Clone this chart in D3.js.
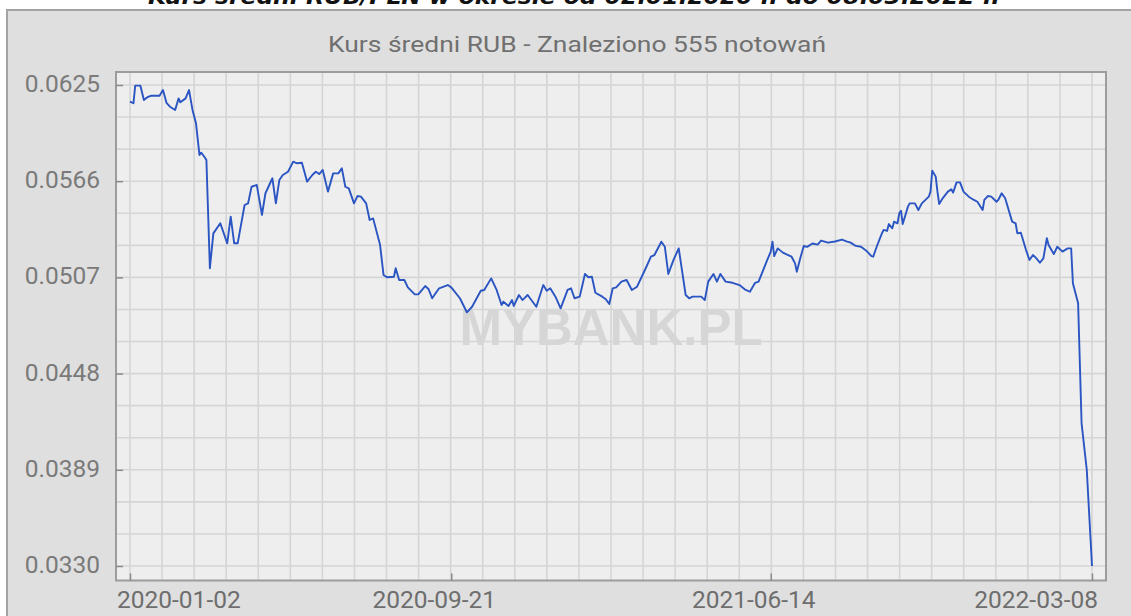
<!DOCTYPE html>
<html><head><meta charset="utf-8">
<script src="https://cdn.jsdelivr.net/npm/d3@7"></script>
<style>html,body{margin:0;padding:0;background:#fff;overflow:hidden}</style>
</head><body>
<svg id="c" width="1131" height="616"></svg>
<script>
// ---- data ----
const pageTitle = "Kurs średni RUB/PLN w okresie od 02.01.2020 r. do 08.03.2022 r.";
const chartTitle = "Kurs średni RUB - Znaleziono 555 notowań";
const watermark = "MYBANK.PL";
const quoteCount = 555;
// index of the quotation (0..554) and mean rate
const idx = [0,2,3,6,8,10,12,17,19,21,23,26,28,29,32,34,36,38,40,41,43,44,46,48,52,56,58,60,62,66,68,70,73,76,78,82,84,86,88,91,94,96,99,102,105,107,109,111,114,117,120,122,124,126,129,131,133,136,138,140,
144,146,148,152,153,155,158,160,164,166,170,172,174,178,183,185,190,194,197,202,204,208,211,214,215,218,220,221,224,226,229,234,238,240,242,245,248,252,254,256,259,262,264,266,268,272,274,276,278,280,283,286,289,292,297,300,302,306,308,310,313,316,320,322,324,329,331,333,336,338,340,343,347,351,354,357,360,362,367,369,370,371,373,376,379,381,383,384,386,
388,390,393,396,398,402,406,410,413,415,418,421,424,427,428,430,433,434,436,437,439,440,442,443,444,445,448,449,452,454,456,460,461,462,464,465,466,468,471,473,474,476,478,480,483,486,488,491,492,494,496,499,500,502,504,508,510,511,513,514,516,518,520,522,524,526,528,529,532,534,537,540,542,543,546,548,551,554];
const rate = [0.06148,0.06138,0.06246,0.06246,0.06158,0.06175,0.06184,0.06184,0.06219,0.06141,0.06117,0.06097,0.06168,0.06144,0.06168,0.06219,0.06097,0.06015,0.05821,0.05835,0.05807,0.05790,0.05126,0.05340,0.05402,0.05279,0.05442,0.05279,0.05279,0.05514,0.05524,0.05626,0.05637,0.05453,0.05586,0.05678,0.05524,0.05667,0.05698,0.05718,0.05780,0.05770,0.05773,0.05657,0.05698,0.05718,0.05704,0.05729,0.05596,0.05708,0.05708,0.05739,0.05626,0.05616,0.05524,0.05569,0.05565,0.05524,0.05422,0.05432,
0.05270,0.05085,0.05071,0.05074,0.05126,0.05054,0.05054,0.05009,0.04966,0.04966,0.05017,0.04997,0.04942,0.05003,0.05023,0.05009,0.04942,0.04856,0.04890,0.04988,0.04993,0.05064,0.04997,0.04901,0.04921,0.04895,0.04931,0.04895,0.04962,0.04931,0.04962,0.04890,0.05023,0.04988,0.05003,0.04952,0.04880,0.04993,0.05003,0.04942,0.04952,0.05091,0.05071,0.05074,0.04976,0.04952,0.04936,0.04907,0.05003,0.05009,0.05044,0.05054,0.04993,0.05013,0.05126,0.05197,0.05207,0.05289,0.05258,0.05091,0.05177,0.05248,0.04962,0.04942,0.04952,0.04952,0.04931,0.05044,0.05091,0.05044,0.05091,0.05044,0.05037,0.05023,0.04997,0.04982,0.05037,0.05044,0.05177,0.05228,0.05289,0.05201,0.05248,0.05222,0.05207,0.05197,0.05156,0.05105,0.05187,
0.05263,0.05257,0.05278,0.05271,0.05296,0.05283,0.05290,0.05302,0.05290,0.05283,0.05263,0.05258,0.05234,0.05201,0.05197,0.05258,0.05340,0.05361,0.05355,0.05397,0.05371,0.05412,0.05402,0.05463,0.05479,0.05397,0.05504,0.05524,0.05524,0.05483,0.05524,0.05565,0.05596,0.05724,0.05688,0.05596,0.05520,0.05555,0.05596,0.05610,0.05590,0.05653,0.05653,0.05596,0.05565,0.05545,0.05534,0.05483,0.05545,0.05569,0.05565,0.05534,0.05545,0.05586,0.05555,0.05412,0.05402,0.05340,0.05344,0.05310,0.05238,0.05177,0.05207,0.05187,0.05160,0.05187,0.05310,0.05269,0.05213,0.05258,0.05228,0.05248,0.05248,0.05034,0.04911,0.04175,0.03889,0.03300];
const yTickValues = [0.0330,0.0389,0.0448,0.0507,0.0566,0.0625];
const yTickLabels = ["0.0330","0.0389","0.0448","0.0507","0.0566","0.0625"];
const xTickIndex = [0,185,369,554];
const xTickLabels = ["2020-01-02","2020-09-21","2021-06-14","2022-03-08"];

// ---- layout ----
const svg = d3.select("#c");
const box = {left:116, right:1106, top:72, bottom:580.5};
const padX = 14, padTop = 13, padBottom = 14.5;
const fontUI = "Roboto, 'Noto Sans', sans-serif";

const x = d3.scaleLinear().domain([0, quoteCount-1]).range([box.left+padX, box.right-padX]);
const y = d3.scaleLinear().domain([d3.min(yTickValues), d3.max(yTickValues)])
  .range([box.bottom-padBottom, box.top+padTop]);

// page title (cut at the top, as in the source)
svg.append("text").attr("x", 574).attr("y", 4).attr("text-anchor","middle")
  .attr("font-family","'DejaVu Sans', sans-serif").attr("font-weight","bold").attr("font-style","italic")
  .attr("font-size", 22).attr("fill","#111")
  .attr("textLength", 852).attr("lengthAdjust","spacingAndGlyphs").text(pageTitle);

// outer panel
svg.append("rect").attr("x",7).attr("y",10).attr("width",1140).attr("height",620)
  .attr("fill","#dfdfdf").attr("stroke","#a3a3a3").attr("stroke-width",2);

// chart title
svg.append("text").attr("x", 577).attr("y", 52).attr("text-anchor","middle")
  .attr("font-family",fontUI).attr("font-size",22).attr("fill","#707070")
  .attr("textLength", 498).attr("lengthAdjust","spacingAndGlyphs").text(chartTitle);

// plot background
svg.append("rect").attr("x",box.left).attr("y",box.top)
  .attr("width",box.right-box.left).attr("height",box.bottom-box.top).attr("fill","#eeeeee");

// grid
const yStep = (yTickValues[1]-yTickValues[0])/3;
const hGrid = d3.range(0, 16).map(k => yTickValues[0] + k*yStep);
const xStep = (quoteCount-1)/30;
const vGrid = d3.range(0, 31).map(k => k*xStep);
const grid = svg.append("g").attr("stroke","#d5d5d5").attr("stroke-width",1.6);
grid.selectAll("line.h").data(hGrid).join("line").attr("class","h")
  .attr("x1",box.left).attr("x2",box.right).attr("y1",d=>y(d)).attr("y2",d=>y(d));
grid.selectAll("line.v").data(vGrid).join("line").attr("class","v")
  .attr("y1",box.top).attr("y2",box.bottom).attr("x1",d=>x(d)).attr("x2",d=>x(d));

// watermark
svg.append("text").attr("x", 611).attr("y", 345).attr("text-anchor","middle")
  .attr("font-family","'Liberation Sans', Arial, sans-serif").attr("font-weight","bold")
  .attr("font-size",51).attr("fill","#d6d6d6").text(watermark);

// plot border
svg.append("rect").attr("x",box.left).attr("y",box.top)
  .attr("width",box.right-box.left).attr("height",box.bottom-box.top)
  .attr("fill","none").attr("stroke","#9c9c9c").attr("stroke-width",2);

// y axis (ticks inward)
const yAxis = d3.axisRight(y).tickValues(yTickValues).tickSize(7).tickFormat("");
const gy = svg.append("g").attr("transform",`translate(${box.left},0)`).call(yAxis);
gy.select(".domain").remove();
gy.selectAll("line").attr("stroke","#8a8a8a").attr("stroke-width",1.5);
svg.append("g").selectAll("text").data(yTickValues).join("text")
  .attr("x", box.left-16).attr("y", d=>y(d)+7).attr("text-anchor","end")
  .attr("font-family",fontUI).attr("font-size",24.5).attr("fill","#7a7a7a")
  .text((d,i)=>yTickLabels[i]);

// x axis (ticks inward)
const xAxis = d3.axisTop(x).tickValues(xTickIndex).tickSize(7).tickFormat("");
const gx = svg.append("g").attr("transform",`translate(0,${box.bottom})`).call(xAxis);
gx.select(".domain").remove();
gx.selectAll("line").attr("stroke","#8a8a8a").attr("stroke-width",1.5);
const last = xTickIndex.length-1;
svg.append("g").selectAll("text").data(xTickIndex).join("text")
  .attr("x", (d,i)=> i===0 ? box.left+1 : i===last ? x(d)+6 : x(d)-17)
  .attr("y", 608)
  .attr("text-anchor", (d,i)=> i===0 ? "start" : i===last ? "end" : "middle")
  .attr("font-family",fontUI).attr("font-size",24.5).attr("fill","#6e6e6e")
  .text((d,i)=>xTickLabels[i]);

// series
const pts = idx.map((d,i)=>[d, rate[i]]);
const line = d3.line().x(d=>x(d[0])).y(d=>y(d[1]));
svg.append("path").datum(pts).attr("d",line).attr("fill","none")
  .attr("stroke","#2a55c2").attr("stroke-width",1.9).attr("stroke-linejoin","round");
</script>
</body></html>
